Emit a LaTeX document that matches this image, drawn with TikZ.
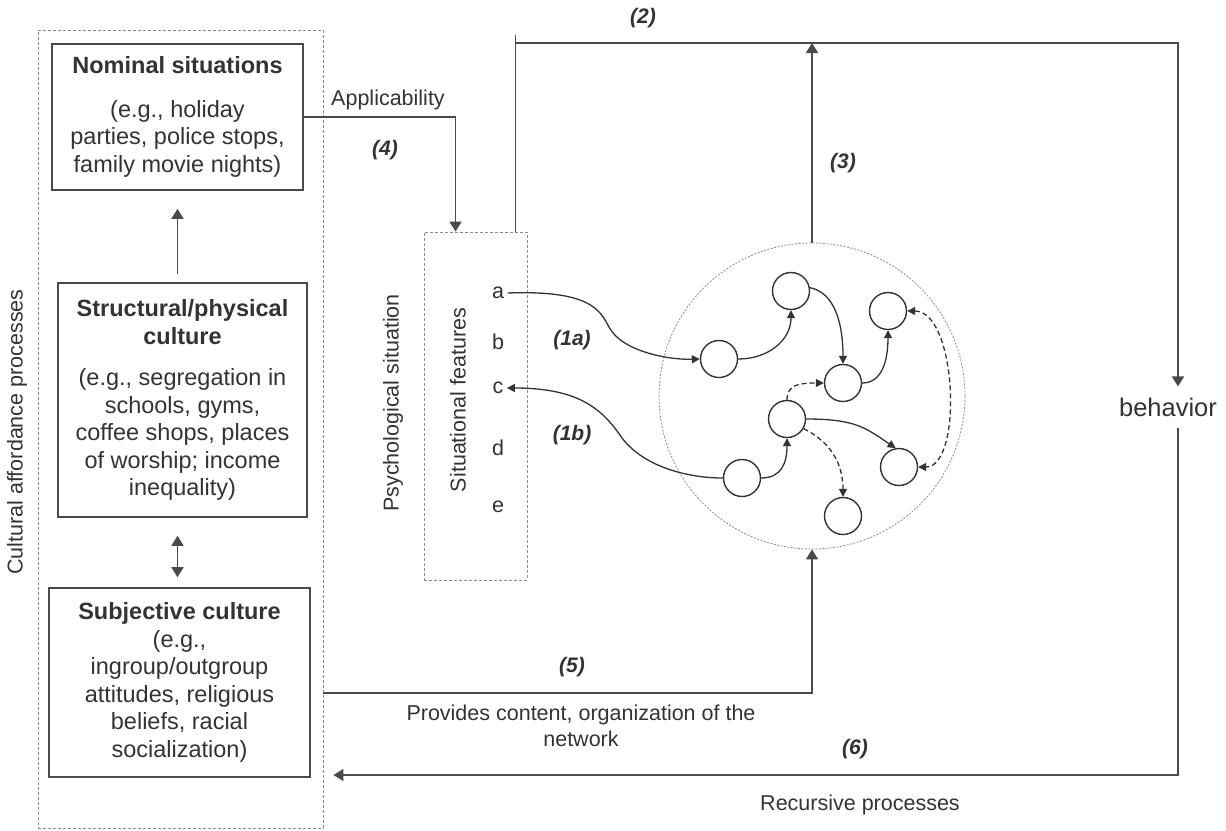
\documentclass[tikz,border=0pt]{standalone}
\usepackage{fontspec}
\setmainfont{Liberation Sans}
\usetikzlibrary{arrows.meta,calc}
\definecolor{ink}{HTML}{333333}
\definecolor{edge}{HTML}{4A4A4A}
\definecolor{faint}{HTML}{8C8C8C}

\begin{document}
\begin{tikzpicture}[x=1pt,y=-1pt,
  every node/.style={text=ink},
  boxtxt/.style={font=\fontsize{23.5}{27.5}\selectfont, align=center},
  solidbox/.style={draw=edge, line width=1.6pt, boxtxt, inner sep=0pt},
  dashbox/.style={draw=faint, line width=0.9pt, dash pattern=on 3pt off 2pt, inner sep=0pt},
  lbl/.style={font=\fontsize{21.5}{26}\selectfont},
  tag/.style={font=\fontsize{21}{25}\selectfont\bfseries\itshape},
  conn/.style={draw=edge, line width=1.6pt},
  tipbig/.style={-{Triangle[length=10pt,width=12pt]}},
  unit/.style={circle, draw=ink, line width=1.4pt, minimum size=37pt, inner sep=0pt},
  link/.style={draw=ink, line width=1.3pt, -{Triangle[length=8pt,width=8pt]}},
  dlink/.style={link, dash pattern=on 5pt off 3pt},
]
\useasboundingbox (0,0) rectangle (1226,830);

% cultural column
\node[dashbox, minimum width=285pt, minimum height=798pt] (cult) at (180.5,429) {};
\node[lbl, rotate=90] (cultlbl) at (17,432) {Cultural affordance processes};

\node[solidbox, minimum width=251pt, minimum height=146pt] (nom) at (177.5,117)
  {\textbf{Nominal situations}\\[16pt](e.g., holiday\\parties, police stops,\\family movie nights)};
\node[solidbox, minimum width=249pt, minimum height=234pt] (str) at (182.5,400)
  {\textbf{Structural/physical}\\\textbf{culture}\\[14pt](e.g., segregation in\\schools, gyms,\\coffee shops, places\\of worship; income\\inequality)};
\node[solidbox, minimum width=261pt, minimum height=189pt] (sub) at (179.5,682.5)
  {\textbf{Subjective culture}\\(e.g.,\\ingroup/outgroup\\attitudes, religious\\beliefs, racial\\socialization)};

\draw[conn, tipbig] ([yshift=8pt]str.north -| nom.south) -- ([yshift=-18pt]nom.south);
\draw[conn, {Triangle[length=10pt,width=12pt]}-{Triangle[length=10pt,width=12pt]}]
  ([yshift=-18pt]str.south -| nom.south) -- ([yshift=10pt]sub.north -| nom.south);

% psychological situation
\node[dashbox, minimum width=103pt, minimum height=348pt] (sf) at (475.5,406) {};
\node[lbl, rotate=90] (psy) at (393,403) {Psychological situation};
\node[lbl, rotate=90] (sft) at (458,400) {Situational features};
\node[lbl] (la) at (498,293) {a};
\node[lbl] (lb) at (498,342) {b};
\node[lbl] (lc) at (498,388) {c};
\node[lbl] (ld) at (498,448) {d};
\node[lbl] (le) at (498,507) {e};

% network
\node[circle, draw=faint, line width=0.8pt, dash pattern=on 2pt off 1.5pt, minimum size=306pt, inner sep=0pt] (net) at (812,396) {};
\node[unit] (n1) at (719,359) {};
\node[unit] (n2) at (791,291) {};
\node[unit] (n3) at (888,311) {};
\node[unit] (n4) at (843,383) {};
\node[unit] (n5) at (787,419) {};
\node[unit] (n6) at (742,478) {};
\node[unit] (n7) at (899,467) {};
\node[unit] (n8) at (843,516) {};

\draw[link] (n1.east) .. controls +(30,0) and +(0,30) .. (n2.south);
\draw[link] (n2.10) .. controls +(25,5) and +(0,-40) .. (n4.north);
\draw[link] (n4.east) .. controls +(20,0) and +(0,30) .. (n3.south);
\draw[dlink] (n5.north) .. controls +(0,-15) and +(-25,0) .. (n4.west);
\draw[link] (n6.east) .. controls +(20,0) and +(0,25) .. (n5.south);
\draw[link] (n5.east) .. controls +(50,0) and +(-30,-20) .. (n7.100);
\draw[dlink] (n5.-30) .. controls +(20,10) and +(0,-40) .. (n8.north);
\draw[dlink, {Triangle[length=8pt,width=8pt]}-{Triangle[length=8pt,width=8pt]}]
  (n3.east) .. controls +(50,0) and +(45,0) .. (n7.east);

\draw[link] (la.east) .. controls (590,290) and (600,310) .. (609,327)
  .. controls (622,352) and (670,360) .. (n1.west);
\draw[link] (n6.west) .. controls (690,478) and (645,468) .. (622,438)
  .. controls (603,410) and (580,388) .. (lc.east);

\node[tag] (t1a) at (572,340) {(1a)};
\node[tag] (t1b) at (572,435) {(1b)};

% behaviour and feedback paths
\node[font=\fontsize{25.5}{30}\selectfont, inner xsep=0pt, inner ysep=11pt] (beh) at (1168,407) {behavior};

\draw[conn, tipbig] (nom.east) -| ($(sf.north west)+(32,0)$);
\node[lbl] (appl) at (388,100) {Applicability};
\node[tag] (t4) at (385,150) {(4)};

\draw[conn] ($(sf.north east)+(-12,0)$) coordinate (s2) -- (s2 |- 0,35);
\draw[conn, tipbig] (s2 |- 0,43) -| ($(beh.north)+(10,0)$);
\node[tag] (t2) at (643,18) {(2)};

\draw[conn, tipbig] (net.north) -- (net.north |- 0,43);
\node[tag] (t3) at (843,163) {(3)};

\draw[conn, tipbig] (cult.east |- 0,693) -| (net.south);
\node[tag] (t5) at (572,667) {(5)};
\node[lbl, align=center] (prov) at (581,726) {Provides content, organization of the\\network};

\draw[conn, tipbig, shorten >=10pt] ($(beh.south)+(10,0)$) |- (cult.east |- 0,775);
\node[tag] (t6) at (855,749) {(6)};
\node[lbl] (rec) at (860,805) {Recursive processes};
\end{tikzpicture}
\end{document}
